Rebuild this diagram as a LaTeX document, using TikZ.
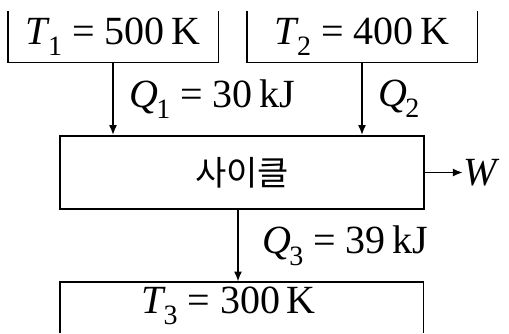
\documentclass[tikz,border=0pt]{standalone}
\usepackage{fontspec}
\setmainfont{Liberation Serif}
\newfontfamily\krfont{Noto Sans CJK KR}
\usetikzlibrary{arrows.meta,positioning}
\newcommand\qty[2]{\textit{#1}\kern-0.06em\raisebox{-0.28em}{\fontsize{14}{15}\selectfont #2}}

\begin{document}
\begin{tikzpicture}[x=0.5pt,y=0.5pt,
  box/.style={inner sep=0pt,font=\fontsize{20}{24}\selectfont},
  wall/.style={line width=0.9pt},
  flow/.style={line width=0.9pt,-{Latex[length=5pt,width=4pt]}},
  heat/.style={font=\fontsize{20}{24}\selectfont,anchor=west,inner sep=0pt,xshift=8pt}]
\useasboundingbox (0,0) rectangle (509,333);
\node[box,minimum width=105pt,minimum height=25.5pt] (res1) at (113,296.5) {\qty{T}{1} = 500\,K};
\node[box,minimum width=115pt,minimum height=25.5pt] (res2) at (362,296.5) {\qty{T}{2} = 400\,K};
\node[draw,wall,inner sep=0pt,minimum width=182pt,minimum height=36.5pt,font=\krfont\fontsize{17}{20}\selectfont] (cycle) at (242,160.5) {사이클};
\node[box,minimum width=181.5pt,minimum height=25.5pt] (sink) at (241.5,25.5) {};
\node[box] (t3) at (228.5,27) {\qty{T}{3} = 300\,K};
\node[box,right=19pt of cycle] (work) {\textit{W}};
\draw[wall] (res1.north west) -- (res1.south west) -- (res1.south east) -- (res1.north east);
\draw[wall] (res2.north west) -- (res2.south west) -- (res2.south east) -- (res2.north east);
\draw[wall] (sink.south west) -- (sink.north west) -- (sink.north east) -- (sink.south east);
\draw[flow] (res1.south) -- (res1.south |- cycle.north) node[heat,midway] {\qty{Q}{1} = 30\,kJ};
\draw[flow] (res2.south) -- (res2.south |- cycle.north) node[heat,midway] {\qty{Q}{2}};
\draw[flow] ([xshift=-2pt]cycle.south) -- ([xshift=-2pt]cycle.south |- sink.north) node[heat,midway,xshift=4pt] {\qty{Q}{3} = 39\,kJ};
\draw[flow] (cycle.east) -- (work.west);
\end{tikzpicture}
\end{document}
